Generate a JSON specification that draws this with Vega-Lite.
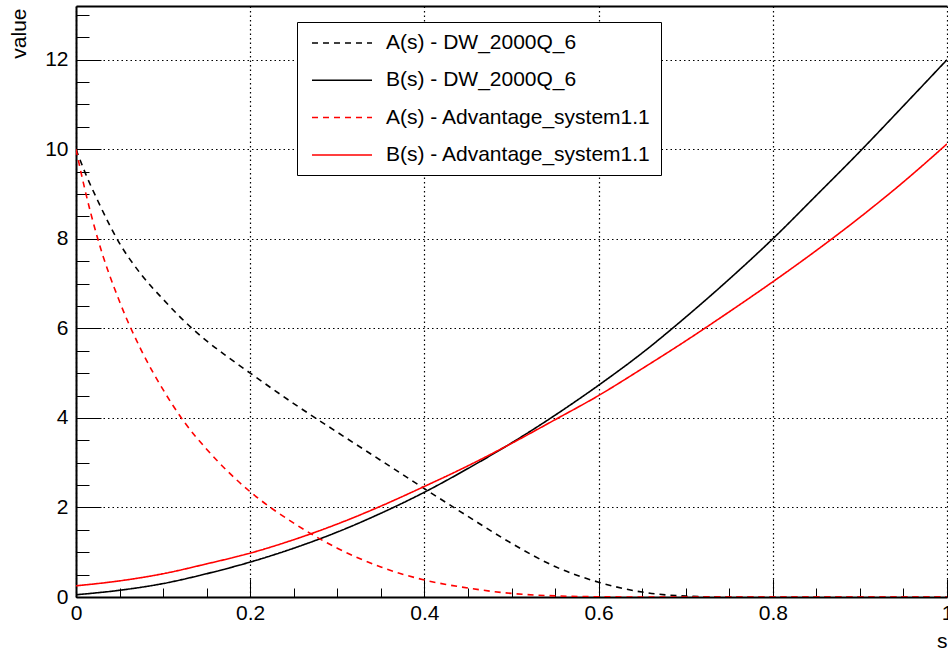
{
  "$schema": "https://vega.github.io/schema/vega-lite/v6.json",
  "width": 871,
  "height": 591,
  "autosize": {"type": "none"},
  "padding": {"left": 76, "top": 6, "right": 1, "bottom": 54},
  "background": "white",
  "config": {"view": {"stroke": null}, "font": "Liberation Sans"},
  "data": {"values": [
    {"s": 0, "value": 10.0, "series": "A(s) - DW_2000Q_6"},
    {"s": 0.01, "value": 9.5, "series": "A(s) - DW_2000Q_6"},
    {"s": 0.025, "value": 8.85, "series": "A(s) - DW_2000Q_6"},
    {"s": 0.05, "value": 7.9, "series": "A(s) - DW_2000Q_6"},
    {"s": 0.075, "value": 7.2, "series": "A(s) - DW_2000Q_6"},
    {"s": 0.1, "value": 6.65, "series": "A(s) - DW_2000Q_6"},
    {"s": 0.125, "value": 6.15, "series": "A(s) - DW_2000Q_6"},
    {"s": 0.15, "value": 5.72, "series": "A(s) - DW_2000Q_6"},
    {"s": 0.175, "value": 5.35, "series": "A(s) - DW_2000Q_6"},
    {"s": 0.2, "value": 5.0, "series": "A(s) - DW_2000Q_6"},
    {"s": 0.25, "value": 4.32, "series": "A(s) - DW_2000Q_6"},
    {"s": 0.3, "value": 3.68, "series": "A(s) - DW_2000Q_6"},
    {"s": 0.35, "value": 3.05, "series": "A(s) - DW_2000Q_6"},
    {"s": 0.4, "value": 2.42, "series": "A(s) - DW_2000Q_6"},
    {"s": 0.45, "value": 1.8, "series": "A(s) - DW_2000Q_6"},
    {"s": 0.5, "value": 1.2, "series": "A(s) - DW_2000Q_6"},
    {"s": 0.55, "value": 0.68, "series": "A(s) - DW_2000Q_6"},
    {"s": 0.6, "value": 0.33, "series": "A(s) - DW_2000Q_6"},
    {"s": 0.65, "value": 0.11, "series": "A(s) - DW_2000Q_6"},
    {"s": 0.7, "value": 0.02, "series": "A(s) - DW_2000Q_6"},
    {"s": 0.75, "value": 0.0, "series": "A(s) - DW_2000Q_6"},
    {"s": 0.8, "value": 0.0, "series": "A(s) - DW_2000Q_6"},
    {"s": 0.9, "value": 0.0, "series": "A(s) - DW_2000Q_6"},
    {"s": 1.0, "value": 0.0, "series": "A(s) - DW_2000Q_6"},

    {"s": 0, "value": 0.05, "series": "B(s) - DW_2000Q_6"},
    {"s": 0.05, "value": 0.15, "series": "B(s) - DW_2000Q_6"},
    {"s": 0.1, "value": 0.3, "series": "B(s) - DW_2000Q_6"},
    {"s": 0.15, "value": 0.52, "series": "B(s) - DW_2000Q_6"},
    {"s": 0.2, "value": 0.78, "series": "B(s) - DW_2000Q_6"},
    {"s": 0.25, "value": 1.09, "series": "B(s) - DW_2000Q_6"},
    {"s": 0.3, "value": 1.45, "series": "B(s) - DW_2000Q_6"},
    {"s": 0.35, "value": 1.87, "series": "B(s) - DW_2000Q_6"},
    {"s": 0.4, "value": 2.34, "series": "B(s) - DW_2000Q_6"},
    {"s": 0.45, "value": 2.87, "series": "B(s) - DW_2000Q_6"},
    {"s": 0.5, "value": 3.44, "series": "B(s) - DW_2000Q_6"},
    {"s": 0.55, "value": 4.06, "series": "B(s) - DW_2000Q_6"},
    {"s": 0.6, "value": 4.73, "series": "B(s) - DW_2000Q_6"},
    {"s": 0.65, "value": 5.45, "series": "B(s) - DW_2000Q_6"},
    {"s": 0.7, "value": 6.25, "series": "B(s) - DW_2000Q_6"},
    {"s": 0.75, "value": 7.1, "series": "B(s) - DW_2000Q_6"},
    {"s": 0.8, "value": 8.0, "series": "B(s) - DW_2000Q_6"},
    {"s": 0.85, "value": 8.97, "series": "B(s) - DW_2000Q_6"},
    {"s": 0.9, "value": 9.95, "series": "B(s) - DW_2000Q_6"},
    {"s": 0.95, "value": 10.97, "series": "B(s) - DW_2000Q_6"},
    {"s": 1.0, "value": 12.0, "series": "B(s) - DW_2000Q_6"},

    {"s": 0, "value": 10.0, "series": "A(s) - Advantage_system1.1"},
    {"s": 0.01, "value": 9.12, "series": "A(s) - Advantage_system1.1"},
    {"s": 0.025, "value": 8.0, "series": "A(s) - Advantage_system1.1"},
    {"s": 0.05, "value": 6.6, "series": "A(s) - Advantage_system1.1"},
    {"s": 0.075, "value": 5.51, "series": "A(s) - Advantage_system1.1"},
    {"s": 0.1, "value": 4.63, "series": "A(s) - Advantage_system1.1"},
    {"s": 0.125, "value": 3.89, "series": "A(s) - Advantage_system1.1"},
    {"s": 0.15, "value": 3.3, "series": "A(s) - Advantage_system1.1"},
    {"s": 0.175, "value": 2.79, "series": "A(s) - Advantage_system1.1"},
    {"s": 0.2, "value": 2.35, "series": "A(s) - Advantage_system1.1"},
    {"s": 0.25, "value": 1.65, "series": "A(s) - Advantage_system1.1"},
    {"s": 0.3, "value": 1.09, "series": "A(s) - Advantage_system1.1"},
    {"s": 0.35, "value": 0.67, "series": "A(s) - Advantage_system1.1"},
    {"s": 0.4, "value": 0.38, "series": "A(s) - Advantage_system1.1"},
    {"s": 0.45, "value": 0.2, "series": "A(s) - Advantage_system1.1"},
    {"s": 0.5, "value": 0.08, "series": "A(s) - Advantage_system1.1"},
    {"s": 0.55, "value": 0.025, "series": "A(s) - Advantage_system1.1"},
    {"s": 0.6, "value": 0.005, "series": "A(s) - Advantage_system1.1"},
    {"s": 0.65, "value": 0.0, "series": "A(s) - Advantage_system1.1"},
    {"s": 0.8, "value": 0.0, "series": "A(s) - Advantage_system1.1"},
    {"s": 1.0, "value": 0.0, "series": "A(s) - Advantage_system1.1"},

    {"s": 0, "value": 0.25, "series": "B(s) - Advantage_system1.1"},
    {"s": 0.05, "value": 0.36, "series": "B(s) - Advantage_system1.1"},
    {"s": 0.1, "value": 0.52, "series": "B(s) - Advantage_system1.1"},
    {"s": 0.15, "value": 0.74, "series": "B(s) - Advantage_system1.1"},
    {"s": 0.2, "value": 0.98, "series": "B(s) - Advantage_system1.1"},
    {"s": 0.25, "value": 1.28, "series": "B(s) - Advantage_system1.1"},
    {"s": 0.3, "value": 1.63, "series": "B(s) - Advantage_system1.1"},
    {"s": 0.35, "value": 2.03, "series": "B(s) - Advantage_system1.1"},
    {"s": 0.4, "value": 2.47, "series": "B(s) - Advantage_system1.1"},
    {"s": 0.45, "value": 2.93, "series": "B(s) - Advantage_system1.1"},
    {"s": 0.5, "value": 3.43, "series": "B(s) - Advantage_system1.1"},
    {"s": 0.55, "value": 3.96, "series": "B(s) - Advantage_system1.1"},
    {"s": 0.6, "value": 4.5, "series": "B(s) - Advantage_system1.1"},
    {"s": 0.65, "value": 5.1, "series": "B(s) - Advantage_system1.1"},
    {"s": 0.7, "value": 5.72, "series": "B(s) - Advantage_system1.1"},
    {"s": 0.75, "value": 6.37, "series": "B(s) - Advantage_system1.1"},
    {"s": 0.8, "value": 7.04, "series": "B(s) - Advantage_system1.1"},
    {"s": 0.85, "value": 7.74, "series": "B(s) - Advantage_system1.1"},
    {"s": 0.9, "value": 8.48, "series": "B(s) - Advantage_system1.1"},
    {"s": 0.95, "value": 9.27, "series": "B(s) - Advantage_system1.1"},
    {"s": 1.0, "value": 10.12, "series": "B(s) - Advantage_system1.1"}
  ]},
  "resolve": {"axis": {"x": "independent", "y": "independent"}},
  "layer": [
    {
      "mark": {"type": "line", "strokeWidth": 1.6, "interpolate": "monotone", "clip": true},
      "encoding": {
        "x": {"field": "s", "type": "quantitative",
          "scale": {"domain": [0, 1], "nice": false, "zero": false},
          "axis": {"orient": "bottom", "values": [0, 0.2, 0.4, 0.6, 0.8, 1], "format": "~g",
            "tickSize": -18, "tickWidth": 1, "tickColor": "black",
            "domainColor": "black", "domainWidth": 2,
            "grid": true, "gridColor": "black", "gridDash": [1.5, 3], "gridWidth": 1.2, "gridOpacity": 1,
            "labelFontSize": 21, "labelColor": "black", "labelPadding": 23, "labelBaseline": "top", "labelFlush": false, "labelOverlap": false,
            "title": "s", "titleFontSize": 21, "titleFontWeight": "normal", "titleColor": "black",
            "titleAnchor": "end", "titleAlign": "right", "titleBaseline": "alphabetic", "titleX": 871, "titleY": 50}},
        "y": {"field": "value", "type": "quantitative",
          "scale": {"domain": [0, 13.2], "nice": false, "zero": false},
          "axis": {"orient": "left", "values": [0, 2, 4, 6, 8, 10, 12],
            "tickSize": -25, "tickWidth": 1, "tickColor": "black",
            "domainColor": "black", "domainWidth": 2,
            "grid": true, "gridColor": "black", "gridDash": [1.5, 3], "gridWidth": 1.2, "gridOpacity": 1,
            "labelFontSize": 21, "labelColor": "black", "labelPadding": 33, "labelBaseline": "middle", "labelFlush": false, "labelOverlap": false,
            "title": "value", "titleFontSize": 21, "titleFontWeight": "normal", "titleColor": "black",
            "titleAngle": -90, "titleAnchor": "end", "titleAlign": "right", "titleBaseline": "alphabetic", "titleX": -51, "titleY": 2}},
        "color": {"field": "series", "type": "nominal",
          "scale": {"domain": ["A(s) - DW_2000Q_6", "B(s) - DW_2000Q_6", "A(s) - Advantage_system1.1", "B(s) - Advantage_system1.1"],
                    "range": ["black", "black", "red", "red"]},
          "legend": {"orient": "none", "legendX": 221, "legendY": 16, "title": null,
            "fillColor": "white", "strokeColor": "black", "padding": 10,
            "symbolType": "M-3,0H3", "symbolSize": 400, "symbolStrokeWidth": 1.5, "symbolOffset": 24,
            "labelFontSize": 21, "labelColor": "black", "labelOffset": 33, "labelLimit": 400, "rowPadding": 16.3}},
        "strokeDash": {"field": "series", "type": "nominal",
          "scale": {"domain": ["A(s) - DW_2000Q_6", "B(s) - DW_2000Q_6", "A(s) - Advantage_system1.1", "B(s) - Advantage_system1.1"],
                    "range": [[6, 5], [1, 0], [6, 5], [1, 0]]},
          "legend": {"orient": "none", "legendX": 221, "legendY": 16, "title": null,
            "fillColor": "white", "strokeColor": "black", "padding": 10,
            "symbolType": "M-3,0H3", "symbolSize": 400, "symbolStrokeWidth": 1.5, "symbolOffset": 24,
            "labelFontSize": 21, "labelColor": "black", "labelOffset": 33, "labelLimit": 400, "rowPadding": 16.3}}
      }
    },
    {
      "mark": {"type": "point", "opacity": 0},
      "encoding": {
        "x": {"field": "s", "type": "quantitative",
          "axis": {"orient": "bottom", "values": [0.05, 0.1, 0.15, 0.25, 0.3, 0.35, 0.45, 0.5, 0.55, 0.65, 0.7, 0.75, 0.85, 0.9, 0.95],
            "tickSize": -9, "tickWidth": 1, "tickColor": "black", "domain": false, "grid": false, "labels": false, "title": null}},
        "y": {"field": "value", "type": "quantitative",
          "axis": {"orient": "left", "values": [0.5, 1, 1.5, 2.5, 3, 3.5, 4.5, 5, 5.5, 6.5, 7, 7.5, 8.5, 9, 9.5, 10.5, 11, 11.5, 12.5, 13],
            "tickSize": -13, "tickWidth": 1, "tickColor": "black", "domain": false, "grid": false, "labels": false, "title": null}}
      }
    },
    {
      "mark": {"type": "point", "opacity": 0},
      "encoding": {
        "x": {"field": "s", "type": "quantitative",
          "axis": {"orient": "top", "domainColor": "black", "domainWidth": 2, "ticks": false, "labels": false, "grid": false, "title": null}},
        "y": {"field": "value", "type": "quantitative", "axis": null}
      }
    }
  ]
}
